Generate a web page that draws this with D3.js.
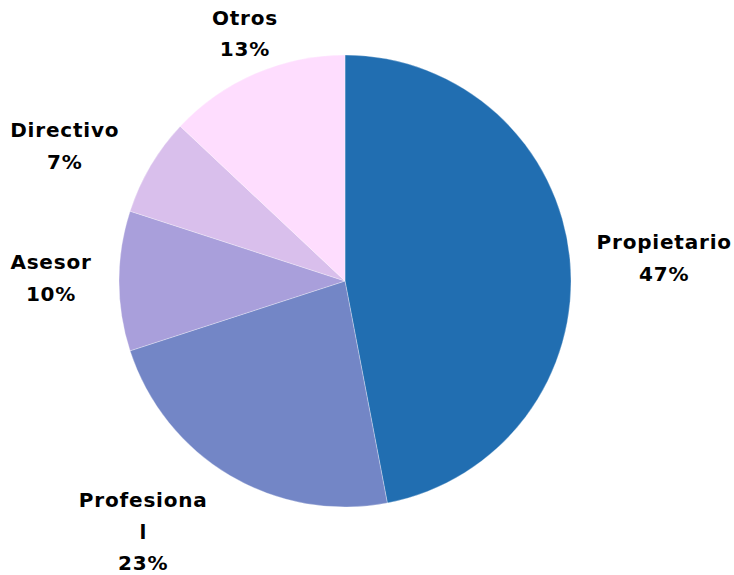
<!DOCTYPE html>
<html>
<head>
<meta charset="utf-8">
<script src="https://cdn.jsdelivr.net/npm/d3@7"></script>
<style>
  body { margin: 0; background: #fff; }
  text { font-family: "DejaVu Sans", sans-serif; font-weight: bold; letter-spacing: 0.8px; }
</style>
</head>
<body>
<div id="chart"></div>
<script>
// datos del gráfico
var categories = ["Propietario", "Profesional", "Asesor", "Directivo", "Otros"];
var values = [47, 23, 10, 7, 13];
var labelLines = [["Propietario"], ["Profesiona", "l"], ["Asesor"], ["Directivo"], ["Otros"]];
var colors = ["#216EB1", "#7386C6", "#A99FDB", "#D9BFEC", "#FEDDFE"];

var width = 734, height = 575;
var cx = 345, cy = 281, radius = 226;
// posición de las etiquetas: [ángulo en grados desde arriba, distancia al centro]
var labelPolar = [[85.9, 320], [218.8, 322], [270.6, 294], [295.7, 311], [338, 267]];
var lineH = 31.5;

var svg = d3.select("#chart").append("svg")
  .attr("width", width).attr("height", height);

var g = svg.append("g").attr("transform", "translate(" + cx + "," + cy + ")");

var pie = d3.pie().sort(null).value(function(d) { return d; });
var arc = d3.arc().innerRadius(0).outerRadius(radius);
var arcs = pie(values);

g.selectAll("path").data(arcs).enter().append("path")
  .attr("d", arc)
  .attr("fill", function(d, i) { return colors[i]; })
  .attr("stroke", "#fff")
  .attr("stroke-width", 0.3);

// etiquetas con categoría y porcentaje
var total = d3.sum(values);
var labels = g.selectAll("text.lab").data(arcs).enter().append("text")
  .attr("class", "lab")
  .attr("text-anchor", "middle")
  .attr("font-size", 20)
  .attr("fill", "#000")
  .each(function(d, i) {
    var a = labelPolar[i][0] * Math.PI / 180, r = labelPolar[i][1];
    var x = r * Math.sin(a), y = -r * Math.cos(a);
    var lines = labelLines[i].concat([Math.round(d.value / total * 100) + "%"]);
    var y0 = y - (lines.length - 1) * lineH / 2 + 7;
    var t = d3.select(this);
    lines.forEach(function(s, k) {
      t.append("tspan").attr("x", x).attr("y", y0 + k * lineH).text(s);
    });
  });
</script>
</body>
</html>
